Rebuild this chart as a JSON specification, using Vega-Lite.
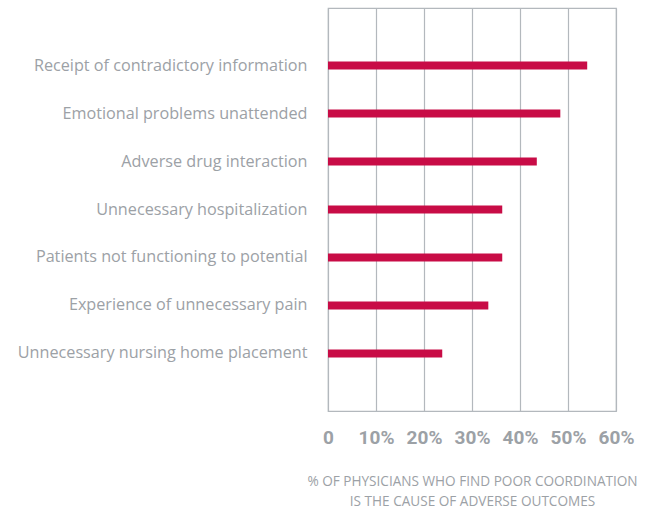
{
  "$schema": "https://vega.github.io/schema/vega-lite/v6.json",
  "width": 288,
  "height": 403,
  "autosize": {"type": "none"},
  "padding": {"left": 328, "top": 8, "right": 36, "bottom": 97},
  "background": "white",
  "data": {"values": [
    {"outcome": "Receipt of contradictory information", "pct": 54.0},
    {"outcome": "Emotional problems unattended", "pct": 48.4},
    {"outcome": "Adverse drug interaction", "pct": 43.5},
    {"outcome": "Unnecessary hospitalization", "pct": 36.3},
    {"outcome": "Patients not functioning to potential", "pct": 36.3},
    {"outcome": "Experience of unnecessary pain", "pct": 33.4},
    {"outcome": "Unnecessary nursing home placement", "pct": 23.8}
  ]},
  "mark": {"type": "bar", "color": "#c80c46", "size": 8},
  "encoding": {
    "y": {
      "field": "outcome", "type": "nominal", "sort": null,
      "scale": {"paddingInner": 0, "paddingOuter": 0.698},
      "axis": {"title": null, "ticks": false, "domain": false, "labelFont": "Open Sans", "labelFontSize": 16.2, "labelColor": "#9ca1a6", "labelPadding": 21, "labelLimit": 0}
    },
    "x": {
      "field": "pct", "type": "quantitative",
      "scale": {"domain": [0, 60], "nice": false},
      "axis": {
        "values": [0, 10, 20, 30, 40, 50, 60],
        "labelExpr": "datum.value == 0 ? '0' : datum.value + '%'",
        "labelOverlap": false, "labelBound": false, "labelFlush": false,
        "ticks": false, "domain": false,
        "grid": true, "gridColor": "#b3b8bd", "gridWidth": 1.2,
        "labelFont": "Roboto", "labelFontWeight": "bold", "labelFontSize": 19, "labelColor": "#9ca1a6", "labelPadding": 17,
        "title": ["% OF PHYSICIANS WHO FIND POOR COORDINATION", "IS THE CAUSE OF ADVERSE OUTCOMES"],
        "titleFont": "Open Sans", "titleFontSize": 13.6, "titleFontWeight": "normal", "titleColor": "#9ca1a6", "titlePadding": 27, "titleLineHeight": 20
      }
    }
  },
  "config": {"view": {"stroke": "#b3b8bd", "strokeWidth": 1.2}}
}
